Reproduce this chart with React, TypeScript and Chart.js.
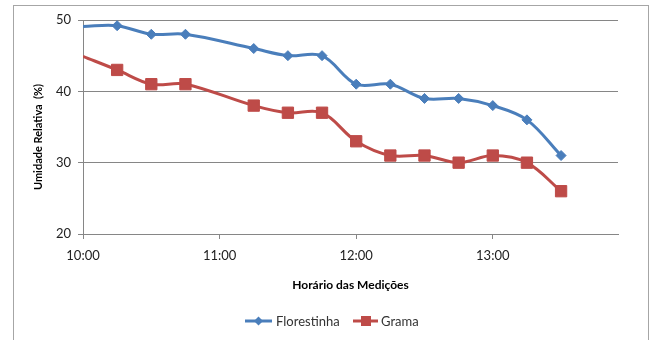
import React, { useEffect, useRef } from "react";
import { Chart, registerables } from "chart.js";

Chart.register(...registerables);

// Time of measurement in hours (10.25 = 10:15)
const times = [10, 10.25, 10.5, 10.75, 11.25, 11.5, 11.75, 12, 12.25, 12.5, 12.75, 13, 13.25, 13.5];
const florestinha = [49.1, 49.2, 48, 48, 46, 45, 45, 41, 41, 39, 39, 38, 36, 31];
const grama = [44.9, 43, 41, 41, 38, 37, 37, 33, 31, 31, 30, 31, 30, 26];
const seriesNames = ["Florestinha", "Grama"];
const xTitle = "Horário das Medições";
const yTitle = "Umidade Relativa  (%)";

const BLUE = "#4A7EBB";
const RED = "#BE4B48";
const GRID = "#868686";
const FONT = "Lato";

const overlayPlugin = {
  id: "overlay",
  afterDraw(chart: any) {
    const ctx = chart.ctx;
    const area = chart.chartArea;
    ctx.save();
    ctx.fillStyle = "#000";
    ctx.textBaseline = "middle";
    // x title
    ctx.font = `bold 12px ${FONT}`;
    ctx.textAlign = "center";
    ctx.fillText(xTitle, (area.left + area.right) / 2, 285);
    // y title
    ctx.save();
    ctx.translate(38, (area.top + area.bottom) / 2 + 10);
    ctx.rotate(-Math.PI / 2);
    ctx.font = `bold 11px ${FONT}`;
    ctx.fillText(yTitle, 0, 0);
    ctx.restore();

    // legend
    const ly = 321;
    ctx.lineWidth = 3;
    ctx.strokeStyle = BLUE;
    ctx.beginPath();
    ctx.moveTo(245, ly);
    ctx.lineTo(272, ly);
    ctx.stroke();
    ctx.fillStyle = BLUE;
    ctx.beginPath();
    ctx.moveTo(258.5, ly - 4.5);
    ctx.lineTo(263, ly);
    ctx.lineTo(258.5, ly + 4.5);
    ctx.lineTo(254, ly);
    ctx.closePath();
    ctx.fill();

    ctx.strokeStyle = RED;
    ctx.beginPath();
    ctx.moveTo(353, ly);
    ctx.lineTo(378, ly);
    ctx.stroke();
    ctx.fillStyle = RED;
    ctx.fillRect(361, ly - 5, 10, 10);

    ctx.fillStyle = "#333";
    ctx.font = `13px ${FONT}`;
    ctx.textAlign = "left";
    ctx.fillText(seriesNames[0], 276, ly + 1);
    ctx.fillText(seriesNames[1], 381, ly + 1);
    ctx.restore();
  },
};

export default function App() {
  const ref = useRef<HTMLCanvasElement | null>(null);

  useEffect(() => {
    document.body.style.margin = "0";
    document.body.style.overflow = "hidden";
    const canvas = ref.current;
    if (!canvas) return;
    const chart = new Chart(canvas, {
      type: "line",
      data: {
        datasets: [
          {
            label: seriesNames[0],
            data: times.map((t, i) => ({ x: t, y: florestinha[i] })),
            borderColor: BLUE,
            backgroundColor: BLUE,
            borderWidth: 3,
            tension: 0.35,
            pointStyle: "rectRot",
            pointRadius: (c: any) => (c.dataIndex === 0 ? 0 : 5),
            pointBorderWidth: 1,
            pointBorderColor: BLUE,
            pointBackgroundColor: BLUE,
          },
          {
            label: seriesNames[1],
            data: times.map((t, i) => ({ x: t, y: grama[i] })),
            borderColor: RED,
            backgroundColor: RED,
            borderWidth: 3,
            tension: 0.35,
            pointStyle: "rect",
            pointRadius: (c: any) => (c.dataIndex === 0 ? 0 : 8),
            pointBorderWidth: 1,
            pointBorderColor: RED,
            pointBackgroundColor: RED,
          },
        ],
      },
      options: {
        animation: false,
        responsive: false,
        devicePixelRatio: 1,
        layout: { padding: { top: 20, right: 32, left: 0, bottom: 0 } },
        plugins: {
          legend: { display: false },
          tooltip: { enabled: false },
        },
        scales: {
          x: {
            type: "linear",
            min: 10,
            max: 13 + 55 / 60,
            afterFit: (s: any) => {
              s.height = 106;
            },
            afterBuildTicks: (s: any) => {
              s.ticks = s.ticks.filter((t: any) => Number.isInteger(t.value));
            },
            ticks: {
              stepSize: 1,
              includeBounds: false,
              color: "#222",
              padding: 9,
              maxRotation: 0,
              font: { family: FONT, size: 13 },
              callback: (v: any) => `${Math.floor(Number(v))}:00`,
            },
            grid: {
              drawOnChartArea: false,
              drawTicks: true,
              tickLength: 5,
              color: GRID,
            },
            border: { color: GRID, width: 1 },
          },
          y: {
            min: 20,
            max: 50,
            afterFit: (s: any) => {
              s.width = 83;
            },
            ticks: {
              stepSize: 10,
              color: "#222",
              padding: 7,
              font: { family: FONT, size: 13 },
            },
            grid: {
              color: GRID,
              tickLength: 5,
            },
            border: { color: GRID, width: 1 },
          },
        },
      },
      plugins: [overlayPlugin],
    } as any);
    return () => chart.destroy();
  }, []);

  return (
    <div style={{ position: "fixed", left: 0, top: 0, width: 650, height: 340, overflow: "hidden", background: "#fff" }}>
      <div
        style={{
          position: "absolute",
          left: 13,
          top: 5,
          width: 634,
          height: 340,
          borderTop: "1px solid #a6a6a6",
          borderLeft: "1px solid #a6a6a6",
          borderRight: "1px solid #a6a6a6",
        }}
      />
      <canvas ref={ref} width={650} height={340} style={{ position: "absolute", left: 0, top: 0 }} />
    </div>
  );
}
